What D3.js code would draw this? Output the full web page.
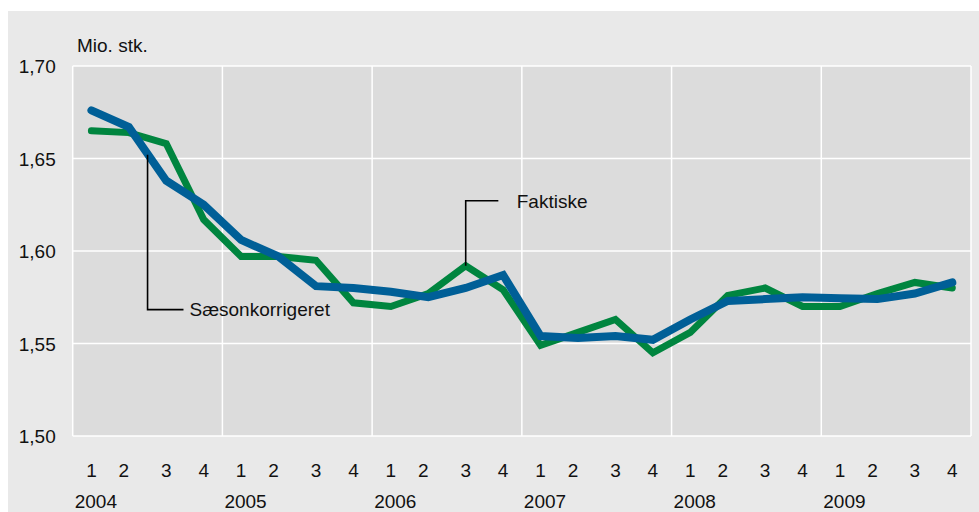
<!DOCTYPE html>
<html><head><meta charset="utf-8">
<script src="https://cdn.jsdelivr.net/npm/d3@7"></script>
<style>
html,body{margin:0;padding:0;background:#fff;}
svg text{font-family:"Liberation Sans","Arial",sans-serif;fill:#111;}
</style></head>
<body><svg id="c" width="979" height="512"></svg>
<script>
const years = [2004, 2005, 2006, 2007, 2008, 2009];
const quarters = [1, 2, 3, 4];
const saesonkorrigeret = [
  1.676, 1.667, 1.638, 1.625,
  1.606, 1.597, 1.581, 1.580,
  1.578, 1.575, 1.580, 1.587,
  1.554, 1.553, 1.554, 1.552,
  1.563, 1.573, 1.574, 1.575,
  1.5745, 1.574, 1.577, 1.583
];
const faktiske = [
  1.665, 1.664, 1.658, 1.617,
  1.597, 1.597, 1.595, 1.572,
  1.570, 1.577, 1.592, 1.579,
  1.549, 1.556, 1.563, 1.545,
  1.556, 1.576, 1.580, 1.570,
  1.570, 1.577, 1.583, 1.580
];
const yTicks = [1.50, 1.55, 1.60, 1.65, 1.70];
const unitLabel = "Mio. stk.";
const labelSeason = "Sæsonkorrigeret";
const labelActual = "Faktiske";

const FS = 19;
const svg = d3.select("#c");
const x = d3.scaleLinear().domain([2004, 2010]).range([72.7, 971]);
const y = d3.scaleLinear().domain([1.50, 1.70]).range([436, 66]);

const pts = [];
years.forEach(yr => quarters.forEach(q => pts.push({yr, q, t: yr + (q - 0.5) / 4})));

// backgrounds
svg.append("rect").attr("x", 8).attr("y", 11).attr("width", 971).attr("height", 501).attr("fill", "#e9e9e9");
svg.append("rect").attr("x", x(2004)).attr("y", y(1.70)).attr("width", x(2010) - x(2004))
  .attr("height", y(1.50) - y(1.70)).attr("fill", "#dcdcdc");

// grid
const grid = svg.append("g").attr("stroke", "#fff").attr("stroke-width", 1.5);
yTicks.forEach(v => grid.append("line").attr("x1", x(2004)).attr("x2", x(2010)).attr("y1", y(v)).attr("y2", y(v)));
years.concat([2010]).forEach(yr => grid.append("line").attr("x1", x(yr)).attr("x2", x(yr)).attr("y1", y(1.70)).attr("y2", y(1.50)));

// y axis
const ya = svg.append("g").attr("transform", `translate(${x(2004) - 17},0)`)
  .call(d3.axisLeft(y).tickValues(yTicks).tickSize(0).tickFormat(d => d3.format(".2f")(d).replace(".", ",")));
ya.select(".domain").remove();
ya.selectAll("text").attr("font-size", FS).attr("dy", "0.35em").attr("x", 0)
  .style("font-family", "'Liberation Sans', Arial, sans-serif").attr("fill", "#111");

svg.append("text").attr("x", 77).attr("y", 52).attr("font-size", FS).text(unitLabel);

// x axis quarter labels
svg.append("g").selectAll("text").data(pts).join("text")
  .attr("x", d => x(d.t) + (d.q === 2 ? -5 : 0)).attr("y", 477)
  .attr("text-anchor", "middle").attr("font-size", FS).text(d => d.q);
svg.append("g").selectAll("text").data(years).join("text")
  .attr("x", d => x(d) + 2).attr("y", 508).attr("font-size", FS).text(d => d);

// lines
const line = d3.line().x(d => x(d[0])).y(d => y(d[1]));
svg.append("path").datum(pts.map((p, i) => [p.t, faktiske[i]])).attr("d", line)
  .attr("fill", "none").attr("stroke", "#00853f").attr("stroke-width", 7)
  .attr("stroke-linejoin", "miter").attr("stroke-linecap", "round");
svg.append("path").datum(pts.map((p, i) => [p.t, saesonkorrigeret[i]])).attr("d", line)
  .attr("fill", "none").attr("stroke", "#005f97").attr("stroke-width", 8)
  .attr("stroke-linejoin", "miter").attr("stroke-linecap", "round");

// annotations
const ann = svg.append("g").attr("fill", "none").attr("stroke", "#000").attr("stroke-width", 1.6);
ann.append("path").attr("d", `M${x(2004.5)},${y(1.652)}V${y(1.5683)}H${x(2004.74)}`);
svg.append("text").attr("x", x(2004.78)).attr("y", 316).attr("font-size", FS).text(labelSeason);
ann.append("path").attr("d", `M${x(2006.625)},${y(1.592)}V${y(1.6272)}H${x(2006.843)}`);
svg.append("text").attr("x", x(2006.966)).attr("y", 208).attr("font-size", FS).text(labelActual);
</script></body></html>
